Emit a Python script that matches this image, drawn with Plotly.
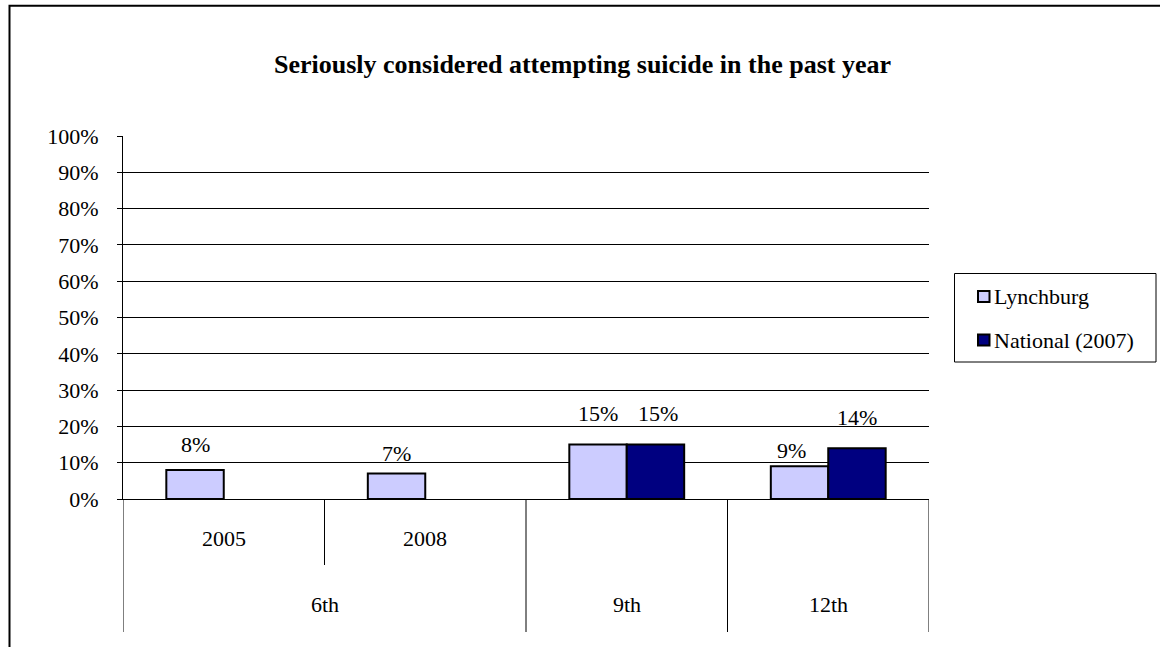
import plotly.graph_objects as go

# ---- data ----
categories = ["6th 2005", "6th 2008", "9th", "12th"]
group_labels = ["6th", "6th", "9th", "12th"]
year_labels = ["2005", "2008", "", ""]
lynchburg = [0.08, 0.07, 0.15, 0.09]
national = [None, None, 0.15, 0.14]
series_names = ["Lynchburg", "National (2007)"]
y_ticks = [i / 10 for i in range(11)]
title_text = "Seriously considered attempting suicide in the past year"

# ---- style ----
FONT = "Liberation Serif, Times New Roman, serif"
FS = 22
colors = ["#CCCCFF", "#000080"]
W, H = 1160, 647
OFF = 0  # page body margin removed via post_script
# plot area in window pixels: x 123..929, y 136..499
L = 123 - OFF
R = W - (929 - OFF)
T = 136 - OFF
B = H - (499 - OFF)
plot_w = W - L - R
plot_h = H - T - B
BARGAP = 0.43
bar_px = plot_w / len(categories) * (1 - BARGAP) / 2

# label offsets (pixels above bar top), per series
label_dy = [[25, 20, 31, 16], [0, 0, 31, 31]]
label_dx = [[0, 0, 0, -8], [0, 0, 3, 0]]


def py(pix):
    """window pixel row -> paper y"""
    return (H - B - (pix - OFF)) / plot_h


def px(pix):
    """window pixel column -> paper x"""
    return (pix - OFF - L) / plot_w


xpos = list(range(len(categories)))

fig = go.Figure()
for name, vals, col in zip(series_names, [lynchburg, national], colors):
    fig.add_trace(go.Bar(
        x=xpos, y=vals, name=name, showlegend=False,
        marker=dict(color=col, line=dict(color="black", width=2)),
    ))

txtfont = dict(family=FONT, size=FS, color="black")

# data labels
for s, vals in enumerate([lynchburg, national]):
    sign = -1 if s == 0 else 1
    for i, v in enumerate(vals):
        if v is None:
            continue
        fig.add_annotation(
            x=xpos[i], y=v, xref="x", yref="y",
            text=f"{round(v * 100)}%", showarrow=False,
            xshift=sign * bar_px / 2 + label_dx[s][i], yshift=label_dy[s][i],
            font=txtfont, xanchor="center", yanchor="middle",
        )

# inner (year) labels
for i, yl in enumerate(year_labels):
    if yl:
        fig.add_annotation(x=xpos[i], y=py(538), xref="x", yref="paper",
                           text=yl, showarrow=False, font=txtfont,
                           xanchor="center", yanchor="middle")

# outer (group) labels
seen = []
for g in group_labels:
    if g in seen:
        continue
    seen.append(g)
    idx = [i for i, gg in enumerate(group_labels) if gg == g]
    fig.add_annotation(x=sum(xpos[i] for i in idx) / len(idx), y=py(604),
                       xref="x", yref="paper", text=g, showarrow=False,
                       font=txtfont, xanchor="center", yanchor="middle")

# divider lines of the category axis
line = dict(color="black", width=1)
for i in range(len(categories) + 1):
    xb = i - 0.5
    if 0 < i < len(categories) and group_labels[i] == group_labels[i - 1]:
        y_end = py(565)
    else:
        y_end = py(632)
    fig.add_shape(type="line", xref="x", yref="paper", x0=xb, x1=xb,
                  y0=0, y1=y_end, line=line)

# legend (drawn manually, Excel style)
fig.add_shape(type="rect", xref="paper", yref="paper",
              x0=px(954.5), x1=px(1156), y0=py(273.5), y1=py(362),
              line=dict(color="black", width=1), fillcolor="white")
leg_rows = [296.5, 340]
for name, col, yc in zip(series_names, colors, leg_rows):
    fig.add_shape(type="rect", xref="paper", yref="paper",
                  x0=px(978), x1=px(989.5), y0=py(yc - 5.5), y1=py(yc + 5.5),
                  line=dict(color="black", width=2), fillcolor=col)
    fig.add_annotation(x=px(992), y=py(yc), xref="paper", yref="paper",
                       text=name, showarrow=False, font=txtfont,
                       xanchor="left", yanchor="middle")

# outer chart border (cropped at right/bottom)
fig.add_shape(type="rect", xref="paper", yref="paper",
              x0=px(9.5), x1=px(1175), y0=py(5.7), y1=py(670),
              line=dict(color="black", width=2))

fig.update_layout(
    width=W, height=H,
    margin=dict(l=L, r=R, t=T, b=B),
    paper_bgcolor="white", plot_bgcolor="white",
    font=dict(family=FONT, size=FS, color="black"),
    barmode="group", bargap=BARGAP, bargroupgap=0,
    title=dict(text=f"<b>{title_text}</b>", x=(582.5 - OFF) / W,
               xanchor="center", y=1 - (64 - OFF) / H, yanchor="middle",
               font=dict(family=FONT, size=26, color="black")),
    showlegend=False,
    xaxis=dict(range=[-0.5, len(categories) - 0.5], showgrid=False,
               zeroline=False, showticklabels=False, showline=True,
               linecolor="black", linewidth=1, fixedrange=True),
    yaxis=dict(range=[0, 1], tickvals=y_ticks, tickformat=".0%",
               showgrid=True, gridcolor="black", gridwidth=1,
               zeroline=False, showline=True, linecolor="black", linewidth=1,
               ticks="outside", ticklen=5, tickcolor="black",
               ticklabelstandoff=14, tickfont=txtfont, fixedrange=True),
)

fig.write_html(
    "out.html",
    config={"displayModeBar": False},
    post_script="document.body.style.margin='0px';document.body.style.overflow='hidden';",
)
